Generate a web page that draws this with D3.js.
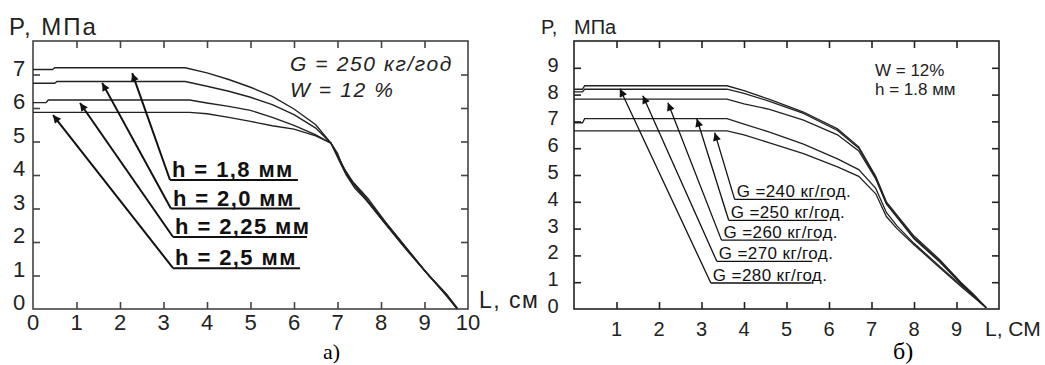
<!DOCTYPE html>
<html>
<head>
<meta charset="utf-8">
<script src="https://cdn.jsdelivr.net/npm/d3@7"></script>
<style>
  body { margin: 0; background: #fff; }
  svg { font-family: "Liberation Sans", Arial, sans-serif; }
</style>
</head>
<body>
<svg id="chart" width="1045" height="365"></svg>
<script>
/* ---- data: chart a) P(L) for different h, G = 250 kg/h, W = 12 % ---- */
let h_labels = ["h = 1,8 мм", "h = 2,0 мм", "h = 2,25 мм", "h = 2,5 мм"];
let h_curves = [
    [[0,7.15],[0.45,7.15],[0.5,7.2],[3.5,7.2],[4.0,7.05],[4.5,6.85],[5.0,6.62],[5.5,6.35],[6.0,5.97],[6.5,5.5],[6.85,4.95],[7.05,4.45],[7.2,4.05],[7.35,3.75],[7.6,3.35],[8.0,2.7],[8.5,1.9],[9.0,1.15],[9.5,0.45],[9.75,0.03]],
    [[0,6.74],[0.5,6.74],[0.55,6.79],[3.5,6.79],[4.0,6.65],[4.5,6.5],[5.0,6.32],[5.5,6.1],[6.0,5.8],[6.5,5.4],[6.85,4.95],[7.05,4.4],[7.2,4.0],[7.4,3.6],[7.7,3.2],[8.1,2.55],[8.6,1.75],[9.1,1.0],[9.5,0.42],[9.75,0.03]],
    [[0,6.16],[0.3,6.16],[0.35,6.24],[3.6,6.24],[4.0,6.15],[4.5,6.05],[5.0,5.93],[5.5,5.72],[6.0,5.48],[6.5,5.2],[6.85,4.95],[7.0,4.6],[7.15,4.2],[7.35,3.8],[7.7,3.3],[8.1,2.6],[8.6,1.8],[9.1,1.0],[9.5,0.45],[9.75,0.02]],
    [[0,5.87],[3.6,5.87],[4.0,5.83],[4.5,5.72],[5.0,5.6],[5.5,5.47],[6.0,5.37],[6.5,5.17],[6.85,4.95],[7.0,4.65],[7.1,4.3],[7.3,3.85],[7.6,3.4],[8.0,2.75],[8.5,1.95],[9.0,1.15],[9.5,0.4],[9.75,0.0]]
];
// arrow tip on the curve, start of label underline, end of underline (in L, P units)
let h_arrow_tips = [[2.28,7.04],[1.59,6.75],[1.08,6.15],[0.46,5.79]];
let h_label_starts = [[3.15,3.85],[3.17,3.0],[3.22,2.15],[3.22,1.22]];
let h_label_ends = [6.09, 6.14, 6.3, 6.14];

/* ---- data: chart б) P(L) for different G, W = 12 %, h = 1.8 mm ---- */
let g_labels = ["G =240 кг/год.", "G =250 кг/год.", "G =260 кг/год.", "G =270 кг/год.", "G =280 кг/год."];
let g_curves = [
    [[0,6.65],[3.6,6.65],[4.0,6.5],[4.6,6.2],[5.4,5.8],[6.2,5.3],[6.7,4.95],[7.1,4.3],[7.35,3.45],[7.6,3.0],[8.0,2.4],[8.6,1.55],[9.1,0.85],[9.4,0.45],[9.7,0.05]],
    [[0,6.95],[0.2,6.95],[0.25,7.1],[3.6,7.1],[4.0,6.9],[4.6,6.6],[5.4,6.15],[6.2,5.6],[6.7,5.2],[7.1,4.5],[7.35,3.6],[7.6,3.1],[8.0,2.45],[8.6,1.6],[9.1,0.9],[9.4,0.5],[9.7,0.05]],
    [[0,7.83],[3.6,7.83],[4.0,7.65],[4.6,7.45],[5.4,7.05],[6.2,6.5],[6.7,5.9],[7.1,4.85],[7.35,3.92],[7.6,3.42],[8.0,2.62],[8.6,1.76],[9.1,0.95],[9.4,0.5],[9.7,0.05]],
    [[0,8.1],[0.2,8.1],[0.25,8.2],[3.6,8.2],[4.0,8.05],[4.6,7.75],[5.4,7.3],[6.2,6.66],[6.7,6.0],[7.1,4.9],[7.35,3.95],[7.6,3.45],[8.0,2.66],[8.6,1.8],[9.1,0.97],[9.4,0.5],[9.7,0.05]],
    [[0,8.2],[0.2,8.2],[0.25,8.33],[3.6,8.33],[4.0,8.15],[4.6,7.82],[5.4,7.35],[6.2,6.72],[6.7,6.05],[7.1,4.95],[7.35,4.0],[7.6,3.5],[8.0,2.72],[8.6,1.85],[9.1,1.0],[9.4,0.55],[9.7,0.05]]
];
let g_arrow_tips = [[3.31,6.58],[2.89,7.1],[2.21,7.7],[1.62,7.96],[1.08,8.22]];
let g_label_starts = [[3.78,4.09],[3.64,3.31],[3.47,2.57],[3.36,1.78],[3.22,0.97]];
let g_label_ends = [6.01, 5.96, 5.77, 5.61, 5.59];

let left_x_ticks = [0,1,2,3,4,5,6,7,8,9,10];
let left_y_ticks = [0,1,2,3,4,5,6,7];
let right_x_ticks = [1,2,3,4,5,6,7,8,9];
let right_y_ticks = [0,1,2,3,4,5,6,7,8,9];

let svg = d3.select("#chart");

// arrowhead marker
svg.append("defs").append("marker")
    .attr("id", "arrow")
    .attr("viewBox", "0 0 10 10")
    .attr("refX", 10).attr("refY", 5)
    .attr("markerWidth", 13).attr("markerHeight", 8)
    .attr("markerUnits", "userSpaceOnUse")
    .attr("orient", "auto")
    .append("path").attr("d", "M0,0 L10,5 L0,10 Z").attr("fill", "#111");

/* ---------- chart a) ---------- */
let xa = d3.scaleLinear().domain([0, 10]).range([33, 468]);
let ya = d3.scaleLinear().domain([0, 8]).range([309, 41]);

draw_frame(xa, ya, "#444", 7);

let ga_ax = svg.append("g").attr("font-size", 22).attr("fill", "#222");
ga_ax.selectAll("text.xl").data(left_x_ticks).enter().append("text")
    .attr("x", d => xa(d)).attr("y", 330)
    .attr("text-anchor", "middle").text(d => d);
ga_ax.selectAll("text.yl").data(left_y_ticks).enter().append("text")
    .attr("x", 19).attr("y", d => ya(d) + 1)
    .attr("text-anchor", "middle").text(d => d);

svg.append("text").attr("x", 9).attr("y", 35).attr("font-size", 24)
    .attr("letter-spacing", 2).attr("fill", "#222").text("P, МПа");
svg.append("text").attr("x", 479).attr("y", 308).attr("font-size", 23)
    .attr("letter-spacing", 1.5).attr("fill", "#222").text("L, см");

let line_a = d3.line().x(d => xa(d[0])).y(d => ya(d[1]));
svg.append("g").selectAll("path").data(h_curves).enter().append("path")
    .attr("d", line_a).attr("fill", "none")
    .attr("stroke", "#222").attr("stroke-width", 1.4);

draw_labels(xa, ya, h_labels, h_arrow_tips, h_label_starts, h_label_ends,
    {size: 22, weight: "bold", spacing: 1.4, under: 3, width: 2});

svg.append("text").attr("x", 290).attr("y", 71).attr("font-size", 21)
    .attr("font-style", "italic").attr("letter-spacing", 1.6).attr("fill", "#222")
    .text("G = 250 кг/год");
svg.append("text").attr("x", 290).attr("y", 97).attr("font-size", 21)
    .attr("font-style", "italic").attr("letter-spacing", 1.6).attr("fill", "#222")
    .text("W = 12 %");

svg.append("text").attr("x", 323).attr("y", 359).attr("font-size", 22)
    .attr("font-family", "Liberation Serif, serif").text("а)");

/* ---------- chart б) ---------- */
let xb = d3.scaleLinear().domain([0, 10]).range([574, 999]);
let yb = d3.scaleLinear().domain([0, 10]).range([309, 41]);

draw_frame(xb, yb, "#222", 7);

let gb_ax = svg.append("g").attr("font-size", 20).attr("fill", "#222");
gb_ax.selectAll("text.xl").data(right_x_ticks).enter().append("text")
    .attr("x", d => xb(d)).attr("y", 336)
    .attr("text-anchor", "middle").text(d => d);
gb_ax.selectAll("text.yl").data(right_y_ticks).enter().append("text")
    .attr("x", 553).attr("y", d => yb(d) + 4)
    .attr("text-anchor", "middle").text(d => d);

svg.append("text").attr("x", 541).attr("y", 34).attr("font-size", 20)
    .attr("fill", "#222").text("P,");
svg.append("text").attr("x", 574).attr("y", 34).attr("font-size", 20)
    .attr("fill", "#222").text("МПа");
svg.append("text").attr("x", 985).attr("y", 336).attr("font-size", 21)
    .attr("fill", "#222").text("L, СМ");

let line_b = d3.line().x(d => xb(d[0])).y(d => yb(d[1]));
svg.append("g").selectAll("path").data(g_curves).enter().append("path")
    .attr("d", line_b).attr("fill", "none")
    .attr("stroke", "#222").attr("stroke-width", 1.3);

draw_labels(xb, yb, g_labels, g_arrow_tips, g_label_starts, g_label_ends,
    {size: 17, weight: "normal", spacing: 0.4, under: 2, width: 1.3});

svg.append("text").attr("x", 875).attr("y", 76).attr("font-size", 17)
    .attr("fill", "#222").text("W = 12%");
svg.append("text").attr("x", 875).attr("y", 95).attr("font-size", 17)
    .attr("fill", "#222").text("h = 1.8 мм");

svg.append("text").attr("x", 893).attr("y", 359).attr("font-size", 24)
    .attr("font-family", "Liberation Serif, serif").text("б)");

/* ---------- helpers ---------- */
function draw_frame(x, y, color, tick){
    let g = svg.append("g");
    let [x0, x1] = x.range();
    let [y0, y1] = y.range();
    g.append("rect").attr("x", x0).attr("y", y1)
        .attr("width", x1 - x0).attr("height", y0 - y1)
        .attr("fill", "none").attr("stroke", color).attr("stroke-width", 1.6);
    let xt = d3.range(x.domain()[0] + 1, x.domain()[1]);
    let yt = d3.range(y.domain()[0] + 1, y.domain()[1]);
    // inward ticks on all four sides
    g.append("g").attr("transform", `translate(0,${y0})`)
        .call(d3.axisBottom(x).tickValues(xt).tickSize(-tick).tickFormat(""));
    g.append("g").attr("transform", `translate(0,${y1})`)
        .call(d3.axisTop(x).tickValues(xt).tickSize(-tick).tickFormat(""));
    g.append("g").attr("transform", `translate(${x0},0)`)
        .call(d3.axisLeft(y).tickValues(yt).tickSize(-tick).tickFormat(""));
    g.append("g").attr("transform", `translate(${x1},0)`)
        .call(d3.axisRight(y).tickValues(yt).tickSize(-tick).tickFormat(""));
    g.selectAll(".domain").remove();
    g.selectAll(".tick line").attr("stroke", color).attr("stroke-width", 1.6);
}

function draw_labels(x, y, labels, tips, starts, ends, st){
    let g = svg.append("g");
    labels.forEach(function(lab, i){
        let sx = x(starts[i][0]), sy = y(starts[i][1]);
        g.append("line")
            .attr("x1", sx).attr("y1", sy)
            .attr("x2", x(tips[i][0])).attr("y2", y(tips[i][1]))
            .attr("stroke", "#111").attr("stroke-width", st.width)
            .attr("marker-end", "url(#arrow)");
        g.append("line")
            .attr("x1", sx).attr("y1", sy)
            .attr("x2", x(ends[i])).attr("y2", sy)
            .attr("stroke", "#111").attr("stroke-width", st.width);
        g.append("text")
            .attr("x", sx + 2).attr("y", sy - st.under)
            .attr("font-size", st.size).attr("font-weight", st.weight)
            .attr("letter-spacing", st.spacing).attr("fill", "#111")
            .text(lab);
    });
}
</script>
</body>
</html>
